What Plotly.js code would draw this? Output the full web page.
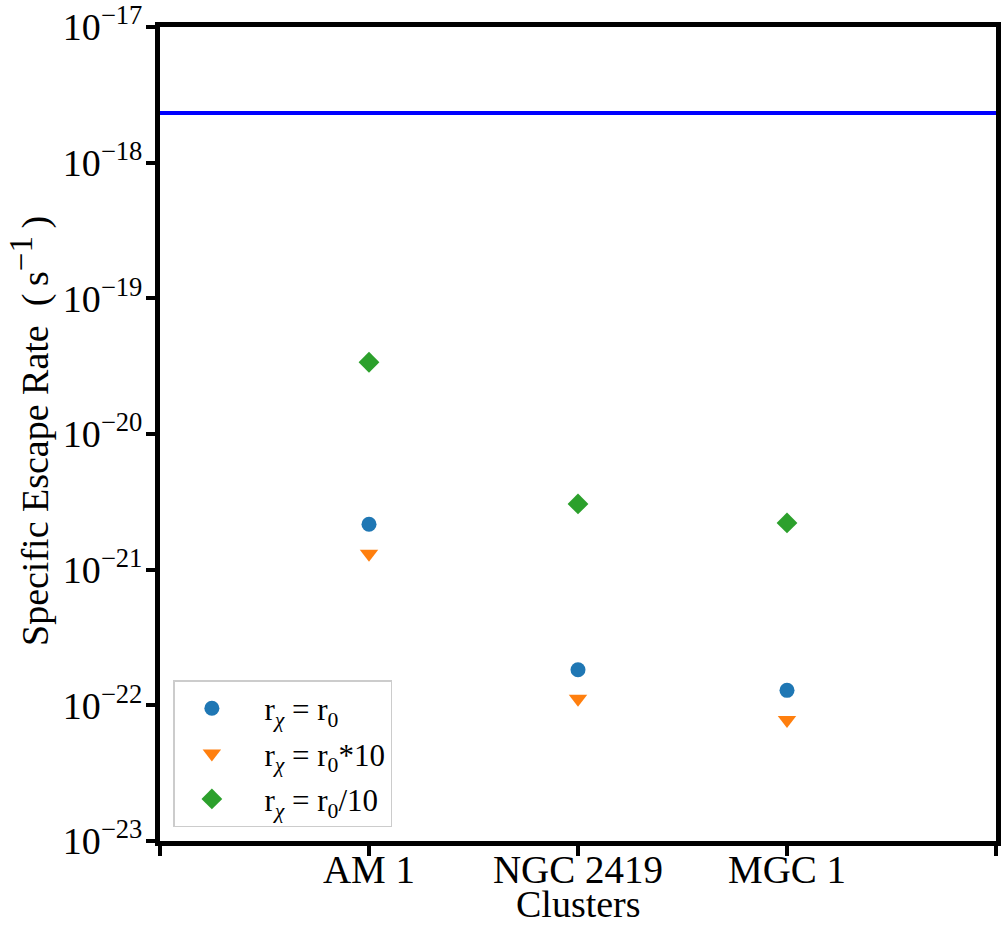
<!DOCTYPE html>
<html>
<head>
<meta charset="utf-8">
<script src="https://cdn.plot.ly/plotly-3.0.1.min.js"></script>
<style>html,body{margin:0;padding:0;background:#fff;}#chart{width:1003px;height:942px;}</style>
</head>
<body>
<div id="chart"></div>
<script>
// Data
const clusters = ["AM 1", "NGC 2419", "MGC 1"];
const rateR0 = [2.16e-21, 1.83e-22, 1.29e-22];        // r_chi = r_0
const rateR0x10 = [1.31e-21, 1.12e-22, 7.8e-23];      // r_chi = r_0*10
const rateR0div10 = [3.38e-20, 3.05e-21, 2.21e-21];   // r_chi = r_0/10
const thresholdRate = 2.32e-18;                        // horizontal blue line
const yTickExponents = [-23, -22, -21, -20, -19, -18, -17];
const yTickVals = yTickExponents.map(e => Math.pow(10, e));
const yTickText = yTickExponents.map(e => "10<sup>−" + Math.abs(e) + "</sup>");

const xPos = clusters.map((c, i) => i + 1);
const xTickVals = [0].concat(xPos, [clusters.length + 1]);
const xTickText = [""].concat(clusters, [""]);

const FONT = "Liberation Serif, Times New Roman, serif";
const NB = "\u00A0";
const TH = "\u2009";

const traces = [
  {
    x: [0, clusters.length + 1], y: [thresholdRate, thresholdRate],
    mode: "lines", line: {color: "#0000ff", width: 4},
    showlegend: false, hoverinfo: "skip"
  },
  {
    x: xPos, y: rateR0, mode: "markers", name: NB + NB + "r<sub><i>χ</i></sub> = r<sub>0</sub>",
    legendgroup: "a",
    marker: {symbol: "circle", size: 15, color: "#1f77b4"}
  },
  {
    x: xPos, y: rateR0x10, mode: "markers", name: NB + NB + "r<sub><i>χ</i></sub> = r<sub>0</sub>*10",
    legendgroup: "b",
    marker: {symbol: "triangle-down", size: 16, color: "#ff7f0e"}
  },
  {
    x: xPos, y: rateR0div10, mode: "markers", name: NB + NB + "r<sub><i>χ</i></sub> = r<sub>0</sub>/10",
    legendgroup: "c",
    marker: {symbol: "diamond", size: 16, color: "#2ca02c"}
  }
];

const layout = {
  width: 1003, height: 942,
  margin: {l: 160, r: 7, t: 27, b: 101, pad: 0},
  paper_bgcolor: "#fff", plot_bgcolor: "#fff",
  font: {family: FONT, size: 38, color: "#000"},
  showlegend: true,
  legend: {
    x: 0.016, y: 0.017, xanchor: "left", yanchor: "bottom",
    bgcolor: "#fff", bordercolor: "#cccccc", borderwidth: 1.5,
    font: {family: FONT, size: 31, color: "#000"},
    tracegroupgap: 2, itemwidth: 64
  },
  xaxis: {
    range: [0, clusters.length + 1],
    tickmode: "array", tickvals: xTickVals, ticktext: xTickText,
    showgrid: false, zeroline: false,
    showline: true, linecolor: "#000", linewidth: 5, mirror: true,
    ticks: "outside", ticklen: 10, tickwidth: 4, tickcolor: "#000",
    tickfont: {family: FONT, size: 39, color: "#000"},
    ticklabelstandoff: -20,
    automargin: false
  },
  yaxis: {
    type: "log", range: [-23, -17],
    tickmode: "array", tickvals: yTickVals, ticktext: yTickText,
    showgrid: false, zeroline: false,
    showline: true, linecolor: "#000", linewidth: 5, mirror: true,
    ticks: "outside", ticklen: 9, tickwidth: 4, tickcolor: "#000",
    tickfont: {family: FONT, size: 38, color: "#000"},
    ticklabelstandoff: -4,
    automargin: false
  },
  annotations: [
    {
      text: "Specific Escape Rate" + NB + NB + "(" + TH + "s<sup><span style='font-size:33px'>−1</span></sup>" + TH + ")",
      textangle: -90,
      xref: "paper", yref: "paper", x: 0, y: 0.5, xanchor: "center", yanchor: "middle",
      xshift: -130, yshift: 3, showarrow: false,
      font: {family: FONT, size: 38, color: "#000"}
    },
    {
      text: "Clusters",
      xref: "paper", yref: "paper", x: 0.5, y: 0, xanchor: "center", yanchor: "middle",
      yshift: -63, showarrow: false,
      font: {family: FONT, size: 38, color: "#000"}
    }
  ]
};

Plotly.newPlot("chart", traces, layout, {displayModeBar: false, staticPlot: true});
</script>
</body>
</html>
